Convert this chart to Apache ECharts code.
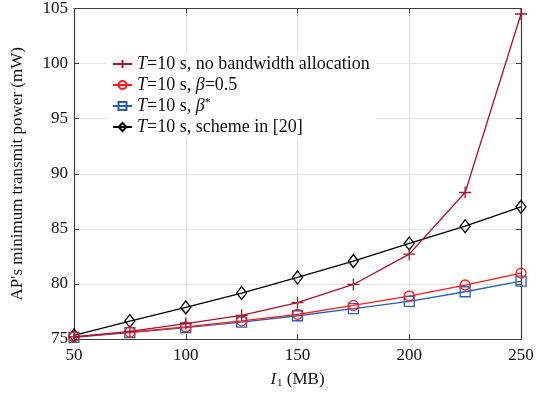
<!DOCTYPE html>
<html>
<head>
<meta charset="utf-8">
<script src="https://cdn.jsdelivr.net/npm/echarts@6/dist/echarts.min.js"></script>
<style>
  html, body { margin: 0; padding: 0; background: #fff; }
  #chart { width: 537px; height: 401px; }
</style>
</head>
<body>
<div id="chart"></div>
<script>
// File size I1 (MB)
const fileSizes = [50, 75, 100, 125, 150, 175, 200, 225, 250];

// AP's minimum transmit power (mW) for each scheme
const noBandwidthAlloc = [75.2, 75.7, 76.4, 77.15, 78.3, 79.95, 82.7, 88.3, 104.5];
const betaHalf         = [75.2, 75.62, 76.1, 76.65, 77.24, 78.05, 78.9, 79.9, 80.98];
const betaStar         = [75.15, 75.57, 76.03, 76.54, 77.11, 77.75, 78.42, 79.29, 80.26];
const schemeRef20      = [75.33, 76.63, 77.87, 79.17, 80.59, 82.07, 83.67, 85.24, 87.0];

// Legend entries and their rich-text forms
const seriesNames = [
  'T=10 s, no bandwidth allocation',
  'T=10 s, β=0.5',
  'T=10 s, β*',
  'T=10 s, scheme in [20]'
];
const legendLabels = [
  '{i|T}=10 s, no bandwidth allocation',
  '{i|T}=10 s, {i|β}=0.5',
  '{i|T}=10 s, {i|β}{sup|*}',
  '{i|T}=10 s, scheme in [20]'
];

const FONT = '"Liberation Serif", "Times New Roman", serif';
const plusPath = 'path://M0,5L10,5M5,0L5,10';

function pairs(vals) {
  return fileSizes.map((x, i) => [x, vals[i]]);
}

function makeSeries(name, vals, color, symbol, size) {
  return {
    name: name,
    type: 'line',
    data: pairs(vals),
    symbol: symbol,
    symbolSize: size,
    showAllSymbol: true,
    color: color,
    lineStyle: { color: color, width: 1.3 },
    itemStyle: { color: 'rgba(255,255,255,0)', borderColor: color, borderWidth: 1.3 },
    emphasis: { disabled: true },
    animation: false
  };
}

const chart = echarts.init(document.getElementById('chart'), null, { renderer: 'canvas' });

const gridLine = { show: true, lineStyle: { color: '#e3e3e3', width: 1 } };
const axisLine = { show: true, lineStyle: { color: '#3c3c3c', width: 1.2 } };
const tickIn = { show: true, inside: true, length: 5, lineStyle: { color: '#3c3c3c', width: 1 } };

chart.setOption({
  backgroundColor: '#fff',
  animation: false,
  grid: { left: 74, right: 16, top: 8, bottom: 62, containLabel: false },
  legend: {
    orient: 'vertical',
    left: 106,
    top: 52,
    padding: [3, 6, 3, 6],
    backgroundColor: '#fff',
    itemWidth: 19,
    itemHeight: 10,
    itemGap: 3,
    data: seriesNames,
    formatter: function (name) {
      return legendLabels[seriesNames.indexOf(name)];
    },
    textStyle: {
      fontFamily: FONT,
      fontSize: 18,
      color: '#111',
      lineHeight: 18,
      rich: {
        i: { fontFamily: FONT, fontSize: 18, fontStyle: 'italic', color: '#111', lineHeight: 18 },
        sup: { fontFamily: FONT, fontSize: 12, color: '#111', verticalAlign: 'top', lineHeight: 18, padding: [0, 0, 6, 0] }
      }
    }
  },
  xAxis: [{
    type: 'value',
    min: 50, max: 250, interval: 50,
    position: 'bottom',
    name: '{i|I}{sub|1} (MB)',
    nameLocation: 'middle',
    nameGap: 31,
    nameTextStyle: {
      fontFamily: FONT, fontSize: 17, color: '#111',
      rich: {
        i: { fontFamily: FONT, fontSize: 17, fontStyle: 'italic', color: '#111' },
        sub: { fontFamily: FONT, fontSize: 11, color: '#111', padding: [8, 0, 0, 1] }
      }
    },
    axisLine: axisLine,
    axisTick: tickIn,
    splitLine: gridLine,
    axisLabel: { fontFamily: FONT, fontSize: 17, color: '#111', margin: 8 }
  }, {
    type: 'value',
    min: 50, max: 250, interval: 50,
    position: 'top',
    axisLine: axisLine,
    axisTick: tickIn,
    splitLine: { show: false },
    axisLabel: { show: false }
  }],
  yAxis: [{
    type: 'value',
    min: 75, max: 105, interval: 5,
    position: 'left',
    name: "AP's minimum transmit power (mW)",
    nameLocation: 'middle',
    nameGap: 48,
    nameTextStyle: { fontFamily: FONT, fontSize: 17, color: '#111' },
    axisLine: axisLine,
    axisTick: tickIn,
    splitLine: gridLine,
    axisLabel: { fontFamily: FONT, fontSize: 17, color: '#111', margin: 6 }
  }, {
    type: 'value',
    min: 75, max: 105, interval: 5,
    position: 'right',
    axisLine: axisLine,
    axisTick: tickIn,
    splitLine: { show: false },
    axisLabel: { show: false }
  }],
  series: [
    makeSeries(seriesNames[3], schemeRef20, '#000000', 'diamond', [10, 13]),
    makeSeries(seriesNames[2], betaStar, '#2a5fb5', 'rect', 10),
    makeSeries(seriesNames[1], betaHalf, '#ff1a1a', 'circle', 10),
    makeSeries(seriesNames[0], noBandwidthAlloc, '#a2142f', plusPath, 12)
  ]
});
</script>
</body>
</html>
